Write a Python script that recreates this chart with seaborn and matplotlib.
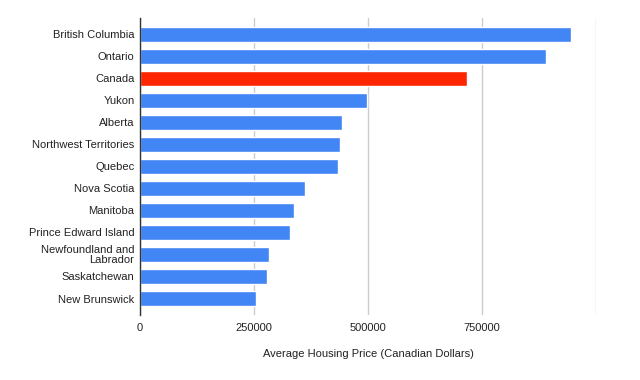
import pandas as pd
import matplotlib.pyplot as plt
import seaborn as sns

# 各省平均房价（加元）
regions = ['British Columbia', 'Ontario', 'Canada', 'Yukon', 'Alberta',
           'Northwest Territories', 'Quebec', 'Nova Scotia', 'Manitoba',
           'Prince Edward Island', 'Newfoundland and\nLabrador',
           'Saskatchewan', 'New Brunswick']
prices = [946000, 890000, 717000, 498000, 443000, 439000, 434000,
          362000, 337000, 329000, 282000, 278000, 254000]
x_ticks = [0, 250000, 500000, 750000, 1000000]
x_tick_labels = ['0', '250000', '500000', '750000', '']

df = pd.DataFrame({'region': regions, 'price': prices})
palette = {r: ('#ff2500' if r == 'Canada' else '#4285f4') for r in regions}

sns.set_style('white')
plt.rcParams['font.family'] = ['Liberation Sans', 'DejaVu Sans']

fig = plt.figure(figsize=(6.4, 3.8), dpi=100)
ax = fig.add_axes([0.21875, 0.171, 0.7125, 0.782])

sns.barplot(data=df, x='price', y='region', hue='region', palette=palette,
            legend=False, width=0.68, ax=ax, saturation=1, zorder=3)

ax.set_xlim(0, 1000000)
ax.set_ylim(12.75, -0.75)
ax.set_xticks(x_ticks)
ax.set_xticklabels(x_tick_labels)
ax.grid(axis='x', color='#cccccc', linewidth=1, zorder=0)
ax.set_axisbelow(True)
for s in ['top', 'right', 'bottom']:
    ax.spines[s].set_visible(False)
ax.spines['left'].set_color('#333333')
ax.spines['left'].set_linewidth(1)
ax.spines['left'].set_zorder(4)
ax.tick_params(axis='both', length=0, labelsize=8, colors='#222222', pad=4)
ax.tick_params(axis='x', pad=6)
for lab in ax.get_yticklabels():
    lab.set_linespacing(0.95)
    lab.set_multialignment('right')
ax.set_ylabel('')
ax.set_xlabel('Average Housing Price (Canadian Dollars)', fontsize=8,
              color='#222222', labelpad=11)

fig.savefig('out.png', dpi=100)
